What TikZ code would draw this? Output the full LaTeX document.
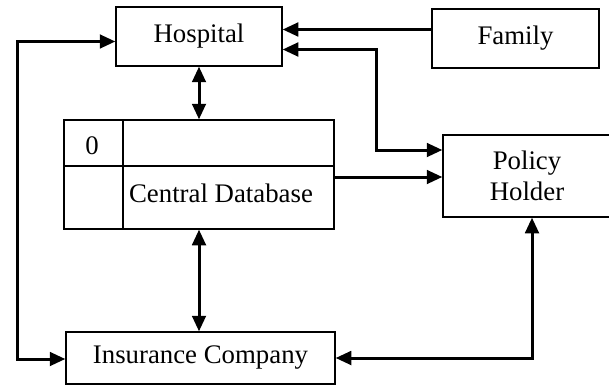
\documentclass[tikz,border=0pt]{standalone}
\usepackage{fontspec}
\setmainfont{Liberation Serif}
\usetikzlibrary{arrows.meta}
\begin{document}
\begin{tikzpicture}[x=0.5pt,y=-0.5pt,
  >={Triangle[length=7.8pt,width=6.8pt]},
  box/.style={draw=black,line width=0.65pt,rectangle,inner sep=0pt,
    font=\fontsize{13.4}{15.5}\selectfont,align=center},
  conn/.style={line width=1.5pt,->},
  dconn/.style={line width=1.5pt,<->},
  txt/.style={font=\fontsize{13.4}{15.5}\selectfont,inner sep=0pt}]
\useasboundingbox (0,0) rectangle (609,385);
\begin{scope}
\clip (0,0) rectangle (609,385);
% main boxes
\node[box,minimum width=83pt,minimum height=29.5pt] (hosp) at (199,36.5) {Hospital};
\node[box,minimum width=83.5pt,minimum height=29.5pt] (fam) at (515.5,38.5) {Family};
\node[box,minimum width=135pt,minimum height=54.5pt] (db) at (199,174.5) {};
\node[box,minimum width=84pt,minimum height=41pt] (ph) at (527,176) {Policy\\Holder};
\node[box,minimum width=134.5pt,minimum height=26pt] (ins) at (200.5,358) {Insurance Company};
% compartments of the database box
\draw[line width=0.65pt] (db.west |- 0,166) -- (db.east |- 0,166);
\draw[line width=0.65pt] (db.north -| 123,0) -- (db.south -| 123,0);
\node[txt] (dbid) at (92,146) {0};
\node[txt] (dbname) at (221,193) {Central Database};
\end{scope}
% connectors
\draw[conn] (fam.west |- 0,29.5) -- (hosp.east |- 0,29.5);
\draw[dconn] (hosp.east |- 0,49.5) -| (376,150) -- (ph.west |- 0,150);
\draw[dconn] (hosp.south) -- (db.north);
\draw[dconn] (db.south) -- (db.south |- ins.north);
\draw[conn] (db.east |- 0,177) -- (ph.west |- 0,177);
\draw[dconn] (hosp.west |- 0,41.5) -| (17,359) -- (ins.west |- 0,359);
\draw[dconn] (ins.east |- 0,358) -| (ph.south -| 532,0);
\end{tikzpicture}
\end{document}
